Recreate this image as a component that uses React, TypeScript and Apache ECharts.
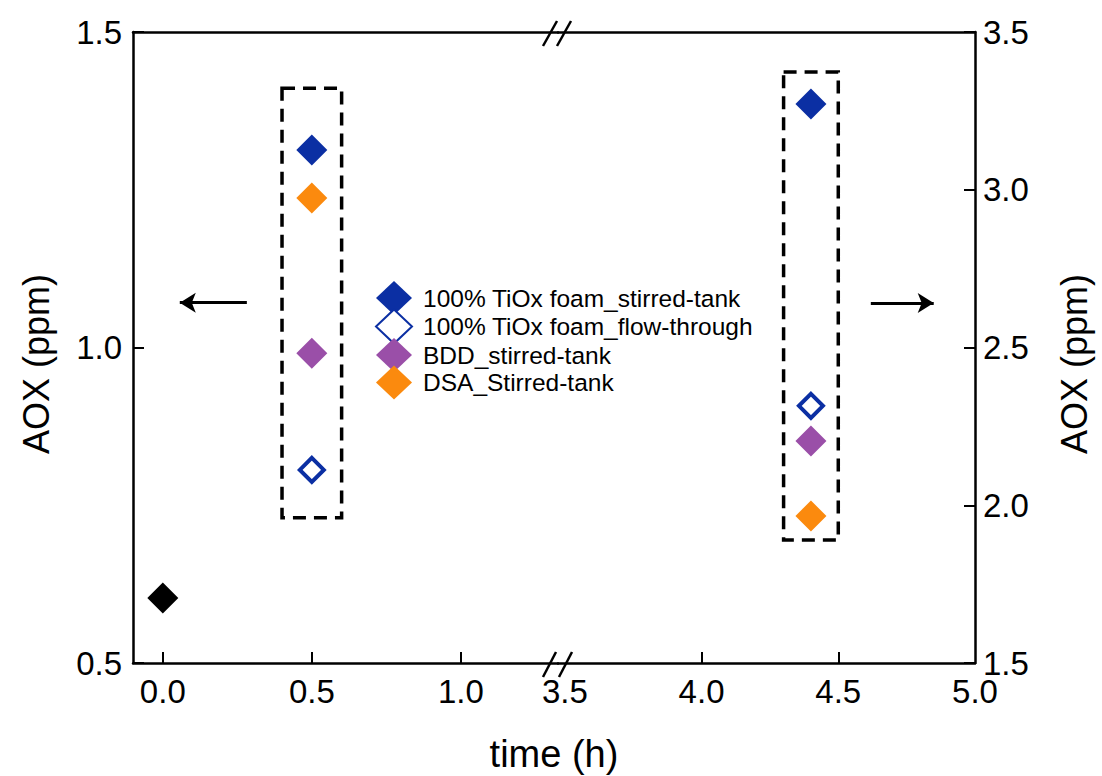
import React, { useEffect, useRef } from "react";
import * as echarts from "echarts";

// ---- data ----
const earlyTime = 0.5;
const lateTime = 4.4;
const seriesNames = [
  "100% TiOx foam_stirred-tank",
  "100% TiOx foam_flow-through",
  "BDD_stirred-tank",
  "DSA_Stirred-tank",
];
// [value at earlyTime on left axis, value at lateTime on right axis]
const tioxStirredAOX = [1.313, 3.272];
const tioxFlowAOX = [0.806, 2.315];
const bddAOX = [0.991, 2.204];
const dsaAOX = [1.237, 1.966];
const initialAOX = [[0.0, 0.603]];

const leftXTicks = [0.0, 0.5, 1.0];
const rightXTickMarks = [4.0, 4.5];
const rightXTickLabels = [3.5, 4.0, 4.5, 5.0];

// dashed grouping boxes [[x1,y1],[x2,y2]]
const earlyBox = [[0.4, 1.411], [0.6, 0.73]];
const lateBox = [[4.3, 3.373], [4.5, 1.89]];
// arrows [[from],[to]]
const leftArrow = [[0.282, 1.071], [0.057, 1.071]];
const rightArrow = [[4.619, 2.641], [4.849, 2.641]];

const BLUE = "#0b2fa3";
const PURPLE = "#9a4fa8";
const ORANGE = "#fb8a0e";
const FONT = "'Liberation Sans', Arial, sans-serif";

export default function App() {
  const ref = useRef<HTMLDivElement>(null);
  useEffect(() => {
    if (!ref.current) return;
    const chart = echarts.init(ref.current, null, { renderer: "svg" });

    const axisLine = { show: true, onZero: false, lineStyle: { color: "#000", width: 2.5 } };
    const tickStyle = { inside: true, length: 11, lineStyle: { color: "#000", width: 2 } };
    const labelStyle = { color: "#000", fontSize: 33, fontFamily: FONT };

    const filled = (color: string) => ({ color, borderWidth: 0, opacity: 1 });
    const hollow = { color: "#fff", borderColor: BLUE, borderWidth: 4, opacity: 1 };

    const pair = (name: string, values: number[], itemStyle: any, size: number, extraLeft: any = {}, extraRight: any = {}) => [
      {
        type: "scatter",
        name,
        xAxisIndex: 0,
        yAxisIndex: 0,
        symbol: "diamond",
        symbolSize: size,
        itemStyle,
        data: [[earlyTime, values[0]]],
        ...extraLeft,
      },
      {
        type: "scatter",
        name,
        xAxisIndex: 2,
        yAxisIndex: 1,
        symbol: "diamond",
        symbolSize: size,
        itemStyle,
        data: [[lateTime, values[1]]],
        ...extraRight,
      },
    ];

    const boxStyle = {
      color: "rgba(0,0,0,0)",
      borderColor: "#000",
      borderWidth: 3.5,
      borderType: [13, 8],
    };
    const markBox = (box: number[][]) => ({
      silent: true,
      itemStyle: boxStyle,
      label: { show: false },
      data: [[{ coord: box[0] }, { coord: box[1] }]],
    });
    const markArrow = (a: number[][]) => ({
      silent: true,
      symbol: ["none", "arrow"],
      symbolSize: [15, 16],
      label: { show: false },
      lineStyle: { color: "#000", width: 3, type: "solid" },
      data: [[{ coord: a[0] }, { coord: a[1] }]],
    });

    const option: any = {
      animation: false,
      backgroundColor: "#fff",
      textStyle: { fontFamily: FONT },
      grid: [
        { left: 133, width: 425, top: 32, height: 631, containLabel: false },
        { left: 558, width: 417, top: 32, height: 631, containLabel: false },
      ],
      xAxis: [
        {
          type: "value",
          gridIndex: 0,
          position: "bottom",
          min: -0.1,
          max: 1.326,
          axisLine: axisLine,
          axisTick: { ...tickStyle, customValues: leftXTicks },
          axisLabel: {
            ...labelStyle,
            margin: 12,
            customValues: leftXTicks,
            formatter: (v: number) => v.toFixed(1),
          },
          splitLine: { show: false },
        },
        {
          type: "value",
          gridIndex: 0,
          position: "top",
          min: -0.1,
          max: 1.326,
          axisLine: axisLine,
          axisTick: { show: false },
          axisLabel: { show: false },
          splitLine: { show: false },
        },
        {
          type: "value",
          gridIndex: 1,
          position: "bottom",
          min: 3.475,
          max: 5.0,
          axisLine: axisLine,
          axisTick: { ...tickStyle, customValues: rightXTickMarks },
          axisLabel: {
            ...labelStyle,
            margin: 12,
            customValues: rightXTickLabels,
            formatter: (v: number) => v.toFixed(1),
          },
          splitLine: { show: false },
        },
        {
          type: "value",
          gridIndex: 1,
          position: "top",
          min: 3.475,
          max: 5.0,
          axisLine: axisLine,
          axisTick: { show: false },
          axisLabel: { show: false },
          splitLine: { show: false },
        },
      ],
      yAxis: [
        {
          type: "value",
          gridIndex: 0,
          position: "left",
          min: 0.5,
          max: 1.5,
          interval: 0.5,
          axisLine: axisLine,
          axisTick: tickStyle,
          axisLabel: { ...labelStyle, margin: 11, formatter: (v: number) => v.toFixed(1) },
          splitLine: { show: false },
        },
        {
          type: "value",
          gridIndex: 1,
          position: "right",
          min: 1.5,
          max: 3.5,
          interval: 0.5,
          axisLine: axisLine,
          axisTick: tickStyle,
          axisLabel: { ...labelStyle, margin: 8, formatter: (v: number) => v.toFixed(1) },
          splitLine: { show: false },
        },
      ],
      legend: {
        orient: "vertical",
        left: 370,
        top: 276,
        itemWidth: 36,
        itemHeight: 34,
        itemGap: -6.5,
        selectedMode: false,
        data: seriesNames,
        textStyle: { color: "#000", fontSize: 24.5, lineHeight: 28, fontFamily: FONT, padding: [0, 0, 0, 6] },
      },
      series: [
        ...pair(seriesNames[0], tioxStirredAOX, filled(BLUE), 31, { markArea: markBox(earlyBox) }, { markArea: markBox(lateBox) }),
        ...pair(seriesNames[1], tioxFlowAOX, hollow, 24),
        ...pair(seriesNames[2], bddAOX, filled(PURPLE), 31, {}, { markLine: markArrow(rightArrow) }),
        ...pair(seriesNames[3], dsaAOX, filled(ORANGE), 31),
        {
          type: "scatter",
          name: "initial",
          xAxisIndex: 0,
          yAxisIndex: 0,
          symbol: "diamond",
          symbolSize: 31,
          itemStyle: { color: "#000", opacity: 1 },
          data: initialAOX,
          markLine: markArrow(leftArrow),
        },
      ],
      graphic: [
        // axis-break marks
        { type: "line", shape: { x1: 543, y1: 46, x2: 557, y2: 21 }, style: { stroke: "#000", lineWidth: 2.5 } },
        { type: "line", shape: { x1: 557, y1: 46, x2: 571, y2: 21 }, style: { stroke: "#000", lineWidth: 2.5 } },
        { type: "line", shape: { x1: 543, y1: 677, x2: 556, y2: 652 }, style: { stroke: "#000", lineWidth: 2.5 } },
        { type: "line", shape: { x1: 559, y1: 677, x2: 572, y2: 652 }, style: { stroke: "#000", lineWidth: 2.5 } },
        // axis titles
        {
          type: "text",
          x: 36,
          y: 364,
          rotation: Math.PI / 2,
          style: { text: "AOX (ppm)", fill: "#000", fontSize: 36, fontFamily: FONT, align: "center", verticalAlign: "middle" },
        },
        {
          type: "text",
          x: 1074,
          y: 364,
          rotation: Math.PI / 2,
          style: { text: "AOX (ppm)", fill: "#000", fontSize: 36, fontFamily: FONT, align: "center", verticalAlign: "middle" },
        },
        {
          type: "text",
          x: 554,
          y: 754,
          style: { text: "time (h)", fill: "#000", fontSize: 38, fontFamily: FONT, align: "center", verticalAlign: "middle" },
        },
      ],
    };
    chart.setOption(option);
    return () => chart.dispose();
  }, []);
  return (
    <div
      ref={ref}
      style={{ position: "fixed", left: 0, top: 0, width: 1102, height: 776, background: "#fff" }}
    />
  );
}
